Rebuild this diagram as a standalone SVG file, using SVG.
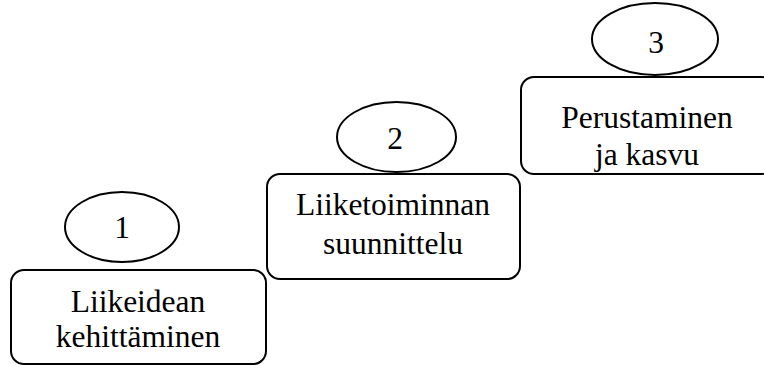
<svg xmlns="http://www.w3.org/2000/svg" width="764" height="365" viewBox="0 0 764 365">
<style>
.box{fill:#fff;stroke:#000;stroke-width:2}
.ell{fill:#fff;stroke:#000;stroke-width:2}
.t{font-family:"Liberation Serif","Times New Roman",serif;font-size:31.5px;fill:#000;text-anchor:middle}
</style>
<rect width="764" height="365" fill="#fff"/>
<g id="connectors"></g>
<g id="step1">
<rect class="box" x="11" y="270" width="255" height="94" rx="13"/>
<text class="t" x="138" y="312">Liikeidean</text>
<text class="t" x="138" y="347">kehittäminen</text>
</g>
<g id="circle1">
<ellipse class="ell" cx="122" cy="227" rx="57" ry="35"/>
<text class="t" x="122" y="238">1</text>
</g>
<g id="step2">
<rect class="box" x="267" y="174" width="253" height="105" rx="13"/>
<text class="t" x="393" y="215">Liiketoiminnan</text>
<text class="t" x="393" y="254">suunnittelu</text>
</g>
<g id="circle2">
<ellipse class="ell" cx="396.5" cy="137" rx="59.5" ry="35"/>
<text class="t" x="395" y="149">2</text>
</g>
<g id="step3">
<rect class="box" x="521" y="77" width="254" height="97" rx="13"/>
<text class="t" x="647" y="128">Perustaminen</text>
<text class="t" x="647" y="165">ja kasvu</text>
</g>
<g id="circle3">
<ellipse class="ell" cx="655" cy="39" rx="63" ry="36"/>
<text class="t" x="656" y="53">3</text>
</g>
</svg>
